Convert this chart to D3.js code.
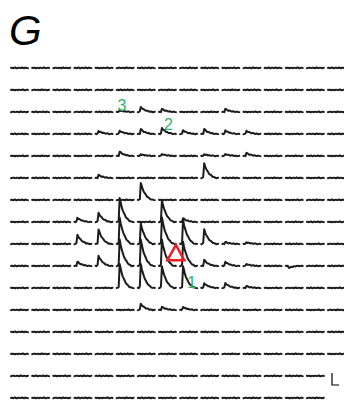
<!DOCTYPE html>
<html>
<head>
<meta charset="utf-8">
<script src="https://cdn.jsdelivr.net/npm/d3@7"></script>
<style>
  html, body { margin: 0; padding: 0; background: #fff; }
  svg { display: block; }
</style>
</head>
<body>
<svg id="chart" width="344" height="402"></svg>
<script>
// Recording grid: 16 rows x 16 sites, one trace per site.
const rowIds = d3.range(16);
const colIds = d3.range(16);
const tracesPerRow = [16, 16, 16, 16, 16, 16, 16, 16, 16, 16, 16, 16, 16, 16, 15, 15];

// Peak response amplitude at each site (mV), rows top to bottom.
const peakAmplitude = [
  [0, 0, 0, 0, 0, 0, 0, 0, 0, 0, 0, 0, 0, 0, 0, 0],
  [0, 0, 0, 0, 0, 0, 0, 0, 0, 0, 0, 0, 0, 0, 0, 0],
  [0, 0, 0, 0, 0, 1.5, 4, 2.5, 0, 0, 2.5, 0, 0, 0, 0, 0],
  [0, 0, 0, 0, 2.5, 2.5, 4, 5, 3, 4, 3, 2.5, 0, 0, 0, 0],
  [0, 0, 0, 0, 0, 3.5, 1.5, 1.5, 0, 1.5, 1.5, 2.5, 0, 0, 0, 0],
  [0, 0, 0, 0, 2.5, 0, 0, 0, 0, 12, 0, 0, 0, 0, 0, 0],
  [0, 0, 0, 0, 0, 0, 14, 0, 0, 0, 0, 0, 0, 0, 0, 0],
  [0, 0, 0, 3.5, 7.5, 20, 0, 18, 3, 0, 0, 0, 0, 0, 0, 0],
  [0, 0, 0, 7.5, 12, 22, 17, 22, 20, 12, 1.5, 1.5, 0, 0, 0, 0],
  [0, 0, 0, 3.5, 8.5, 22, 22, 22, 20, 5, 3.5, 1.5, 0, -1.5, 0, 0],
  [0, 0, 0, 0, 0, 20, 20, 18, 18, 4, 4, 1.5, 0, 0, 0, 0],
  [0, 0, 0, 0, 0, 0, 5, 2.5, 2.5, 0, 0, 0, 0, 0, 0, 0],
  [0, 0, 0, 0, 0, 0, 0, 0, 0, 0, 0, 0, 0, 0, 0, 0],
  [0, 0, 0, 0, 0, 0, 0, 0, 0, 0, 0, 0, 0, 0, 0, 0],
  [0, 0, 0, 0, 0, 0, 0, 0, 0, 0, 0, 0, 0, 0, 0, 0],
  [0, 0, 0, 0, 0, 0, 0, 0, 0, 0, 0, 0, 0, 0, 0, 0]
];

// Normalised response waveform, one sample per ms (fast rise, slow decay).
const responseShape = [0, 0, 0.05, 1.0, 0.8, 0.63, 0.5, 0.39, 0.3, 0.22, 0.16, 0.11, 0.07, 0.04, 0.02, 0, 0, 0];

// Baseline noise (mV), three recorded snippets reused across sites.
const baselineNoise = [
  [0, 0.3, -0.2, 0.1, 0.4, 0, -0.3, 0.2, 0.3, -0.1, 0, 0.4, 0.1, -0.2, 0.2, 0.3, 0, -0.1],
  [0.2, -0.1, 0.3, 0, -0.3, 0.2, 0.1, -0.2, 0.3, 0.1, -0.1, 0.2, 0.4, 0, -0.2, 0.1, 0.3, 0],
  [-0.2, 0.1, 0.3, 0.2, -0.1, 0, 0.3, 0.1, -0.2, 0.2, 0.4, 0, -0.1, 0.3, 0.1, -0.2, 0, 0.2]
];

// Site labels and stimulation marker (grid coordinates).
const siteLabels = [
  { text: "3", col: 5.25, row: 1.95 },
  { text: "2", col: 7.45, row: 2.8 },
  { text: "1", col: 8.55, row: 10.0 }
];
const stimSite = { col: 7.8, row: 8.4 };

const scaleBar = { mV: 10, ms: 7 };

const svg = d3.select("#chart");

const colX = d3.scaleLinear().domain([0, 15]).range([11, 328]);
const rowY = d3.scaleLinear().domain([0, 15]).range([68, 398]);
const timeX = d3.scaleLinear().domain([0, responseShape.length - 1]).range([0, 17]);
const voltPx = d3.scaleLinear().domain([0, 10]).range([0, 12]);

const line = d3.line();

// Panel letter
svg.append("text")
  .attr("x", 9)
  .attr("y", 45)
  .attr("font-family", "Liberation Sans, Arial, sans-serif")
  .attr("font-style", "italic")
  .attr("font-size", 42)
  .attr("fill", "#000")
  .text("G");

// Traces
const traces = [];
rowIds.forEach(r => {
  colIds.slice(0, tracesPerRow[r]).forEach(c => {
    traces.push({ r, c, amp: peakAmplitude[r][c], noise: baselineNoise[(r * 16 + c) % 3] });
  });
});

svg.append("g")
  .selectAll("path")
  .data(traces)
  .join("path")
  .attr("transform", d => `translate(${colX(d.c)},${rowY(d.r)})`)
  .attr("d", d => line(responseShape.map((v, k) => [timeX(k), -voltPx(d.amp * v + d.noise[k])])))
  .attr("fill", "none")
  .attr("stroke", "#1c1c1c")
  .attr("stroke-width", 2)
  .attr("stroke-linejoin", "round")
  .attr("stroke-linecap", "round");

// Stimulation site marker
const tx = colX(stimSite.col), ty = rowY(stimSite.row);
const tri = [[tx, ty - 8], [tx + 8.5, ty + 7.5], [tx - 8.5, ty + 7.5]];
svg.append("path")
  .attr("d", d3.line()(tri) + "Z")
  .attr("fill", "none")
  .attr("stroke", "#ee1c25")
  .attr("stroke-width", 2.4)
  .attr("stroke-linejoin", "miter");

// Site labels
svg.append("g")
  .selectAll("text")
  .data(siteLabels)
  .join("text")
  .attr("x", d => colX(d.col))
  .attr("y", d => rowY(d.row))
  .attr("text-anchor", "middle")
  .attr("font-family", "Liberation Sans, Arial, sans-serif")
  .attr("font-size", 16)
  .attr("fill", "#2fb36b")
  .text(d => d.text);

// Scale bar
const sbx = colX(15) + 4, sby = rowY(14) + 9;
svg.append("path")
  .attr("d", `M${sbx},${sby - voltPx(scaleBar.mV)}V${sby}H${sbx + scaleBar.ms}`)
  .attr("fill", "none")
  .attr("stroke", "#000")
  .attr("stroke-width", 1.2);
</script>
</body>
</html>
